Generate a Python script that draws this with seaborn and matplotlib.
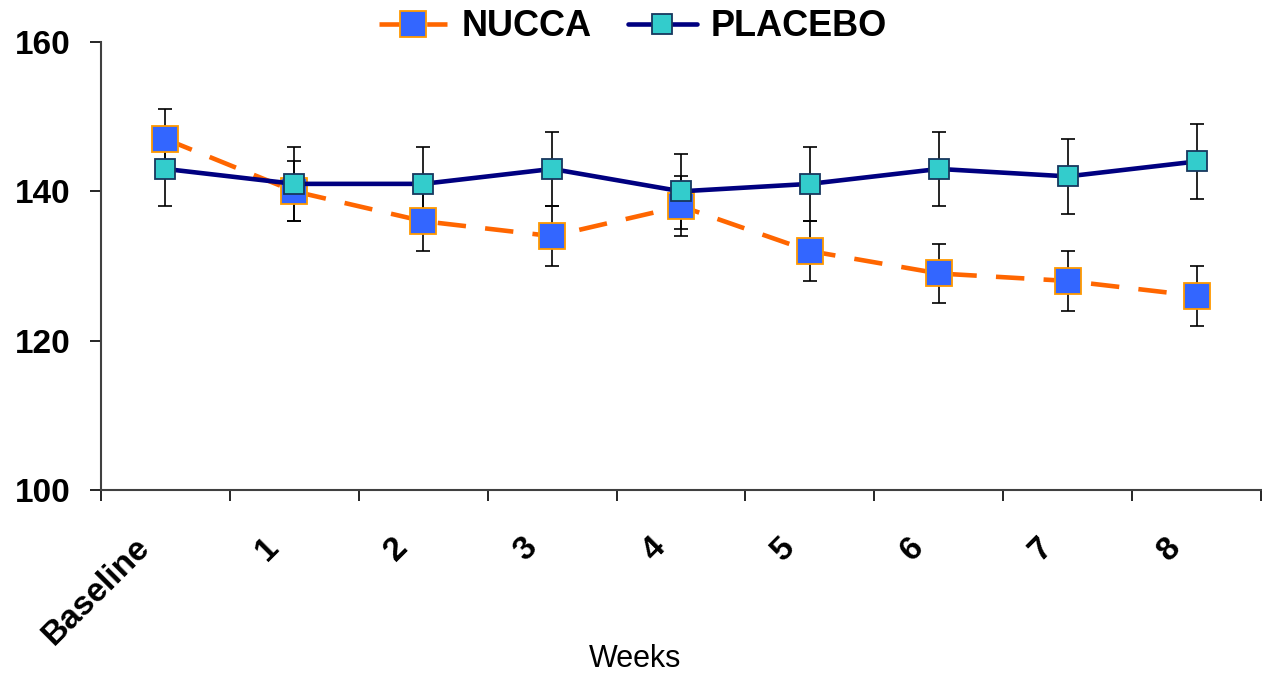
import numpy as np
import pandas as pd
import matplotlib
matplotlib.use('Agg')
import matplotlib.pyplot as plt
import matplotlib.transforms as mtransforms
import seaborn as sns

# ---- data ----
weeks = ['Baseline', '1', '2', '3', '4', '5', '6', '7', '8']
nucca = [147, 140, 136, 134, 138, 132, 129, 128, 126]
nucca_err = [4, 4, 4, 4, 4, 4, 4, 4, 4]
placebo = [143, 141, 141, 143, 140, 141, 143, 142, 144]
placebo_err = [5, 5, 5, 5, 5, 5, 5, 5, 5]

pos = list(range(len(weeks)))
df = pd.DataFrame({'pos': pos + pos,
                   'value': nucca + placebo,
                   'group': ['NUCCA'] * len(nucca) + ['PLACEBO'] * len(placebo)})

sns.set_style('white')
plt.rcParams['font.family'] = ['Liberation Sans', 'DejaVu Sans']
plt.rcParams['text.color'] = 'black'
plt.rcParams['axes.labelcolor'] = 'black'
plt.rcParams['xtick.color'] = 'black'
plt.rcParams['ytick.color'] = 'black'

fig = plt.figure(figsize=(12.62, 6.79), dpi=100)
ax = fig.add_axes([101 / 1262, 1 - 490 / 679, 1160 / 1262, 448 / 679])

# error bars under the markers
ax.errorbar(pos, nucca, yerr=nucca_err, fmt='none', ecolor='black',
            elinewidth=1.2, capsize=5, capthick=1.2, zorder=2)
ax.errorbar(pos, placebo, yerr=placebo_err, fmt='none', ecolor='black',
            elinewidth=1.2, capsize=5, capthick=1.2, zorder=2)

sns.lineplot(data=df, x='pos', y='value', hue='group', style='group',
             palette={'NUCCA': '#FF6600', 'PLACEBO': '#000080'},
             dashes={'NUCCA': (6.2, 4.2), 'PLACEBO': ''},
             markers={'NUCCA': 's', 'PLACEBO': 's'},
             linewidth=3.3, errorbar=None, legend=False, ax=ax)

lines = [l for l in ax.get_lines() if l.get_marker() == 's']
nl, pl = lines[0], lines[1]
nl.set_markersize(18.5)
nl.set_markerfacecolor('#3366FF')
nl.set_markeredgecolor('#FF9900')
nl.set_markeredgewidth(1.3)
nl.set_zorder(3)
pl.set_markersize(14)
pl.set_markerfacecolor('#33CCCC')
pl.set_markeredgecolor('#17375E')
pl.set_markeredgewidth(1.3)
pl.set_zorder(4)

# axes
ax.set_xlim(-0.5, len(weeks) - 0.5)
ax.set_ylim(100, 160)
ax.set_yticks([100, 120, 140, 160])
ax.set_yticklabels(['100', '120', '140', '160'], fontsize=24, fontweight='bold')
ax.set_xticks(pos)
ax.set_xticks(np.arange(-0.5, len(weeks)), minor=True)
ax.set_xticklabels(weeks, rotation=45, ha='right', va='center',
                   rotation_mode='anchor', fontsize=24, fontweight='bold')
ax.tick_params(axis='x', which='major', length=0, pad=38)
ax.tick_params(axis='x', which='minor', length=8, width=1.2, color='black', direction='out')
ax.tick_params(axis='y', length=8, width=1.2, color='black', direction='out', pad=14, left=True)
ax.tick_params(axis='x', which='minor', bottom=True)

for lbl in ax.get_xticklabels():
    lbl.set_transform(lbl.get_transform() +
                      mtransforms.ScaledTranslation(-20 / 100, 0, fig.dpi_scale_trans))

sns.despine(ax=ax)
for s in ['left', 'bottom']:
    ax.spines[s].set_color('#404040')
    ax.spines[s].set_linewidth(1.5)

ax.set_xlabel('Weeks', fontsize=22, color='black')
ax.xaxis.set_label_coords(0.46, -0.377)
ax.xaxis.label.set_va('center')
ax.set_ylabel('')

fig.legend(handles=[nl, pl], labels=['NUCCA', 'PLACEBO'], loc='center',
           bbox_to_anchor=(633 / 1262, 1 - 27 / 679), ncol=2, frameon=False,
           prop={'weight': 'bold', 'size': 26}, handlelength=1.9,
           handletextpad=0.4, columnspacing=1.0, labelcolor='black')

fig.savefig('out.png', dpi=100)
